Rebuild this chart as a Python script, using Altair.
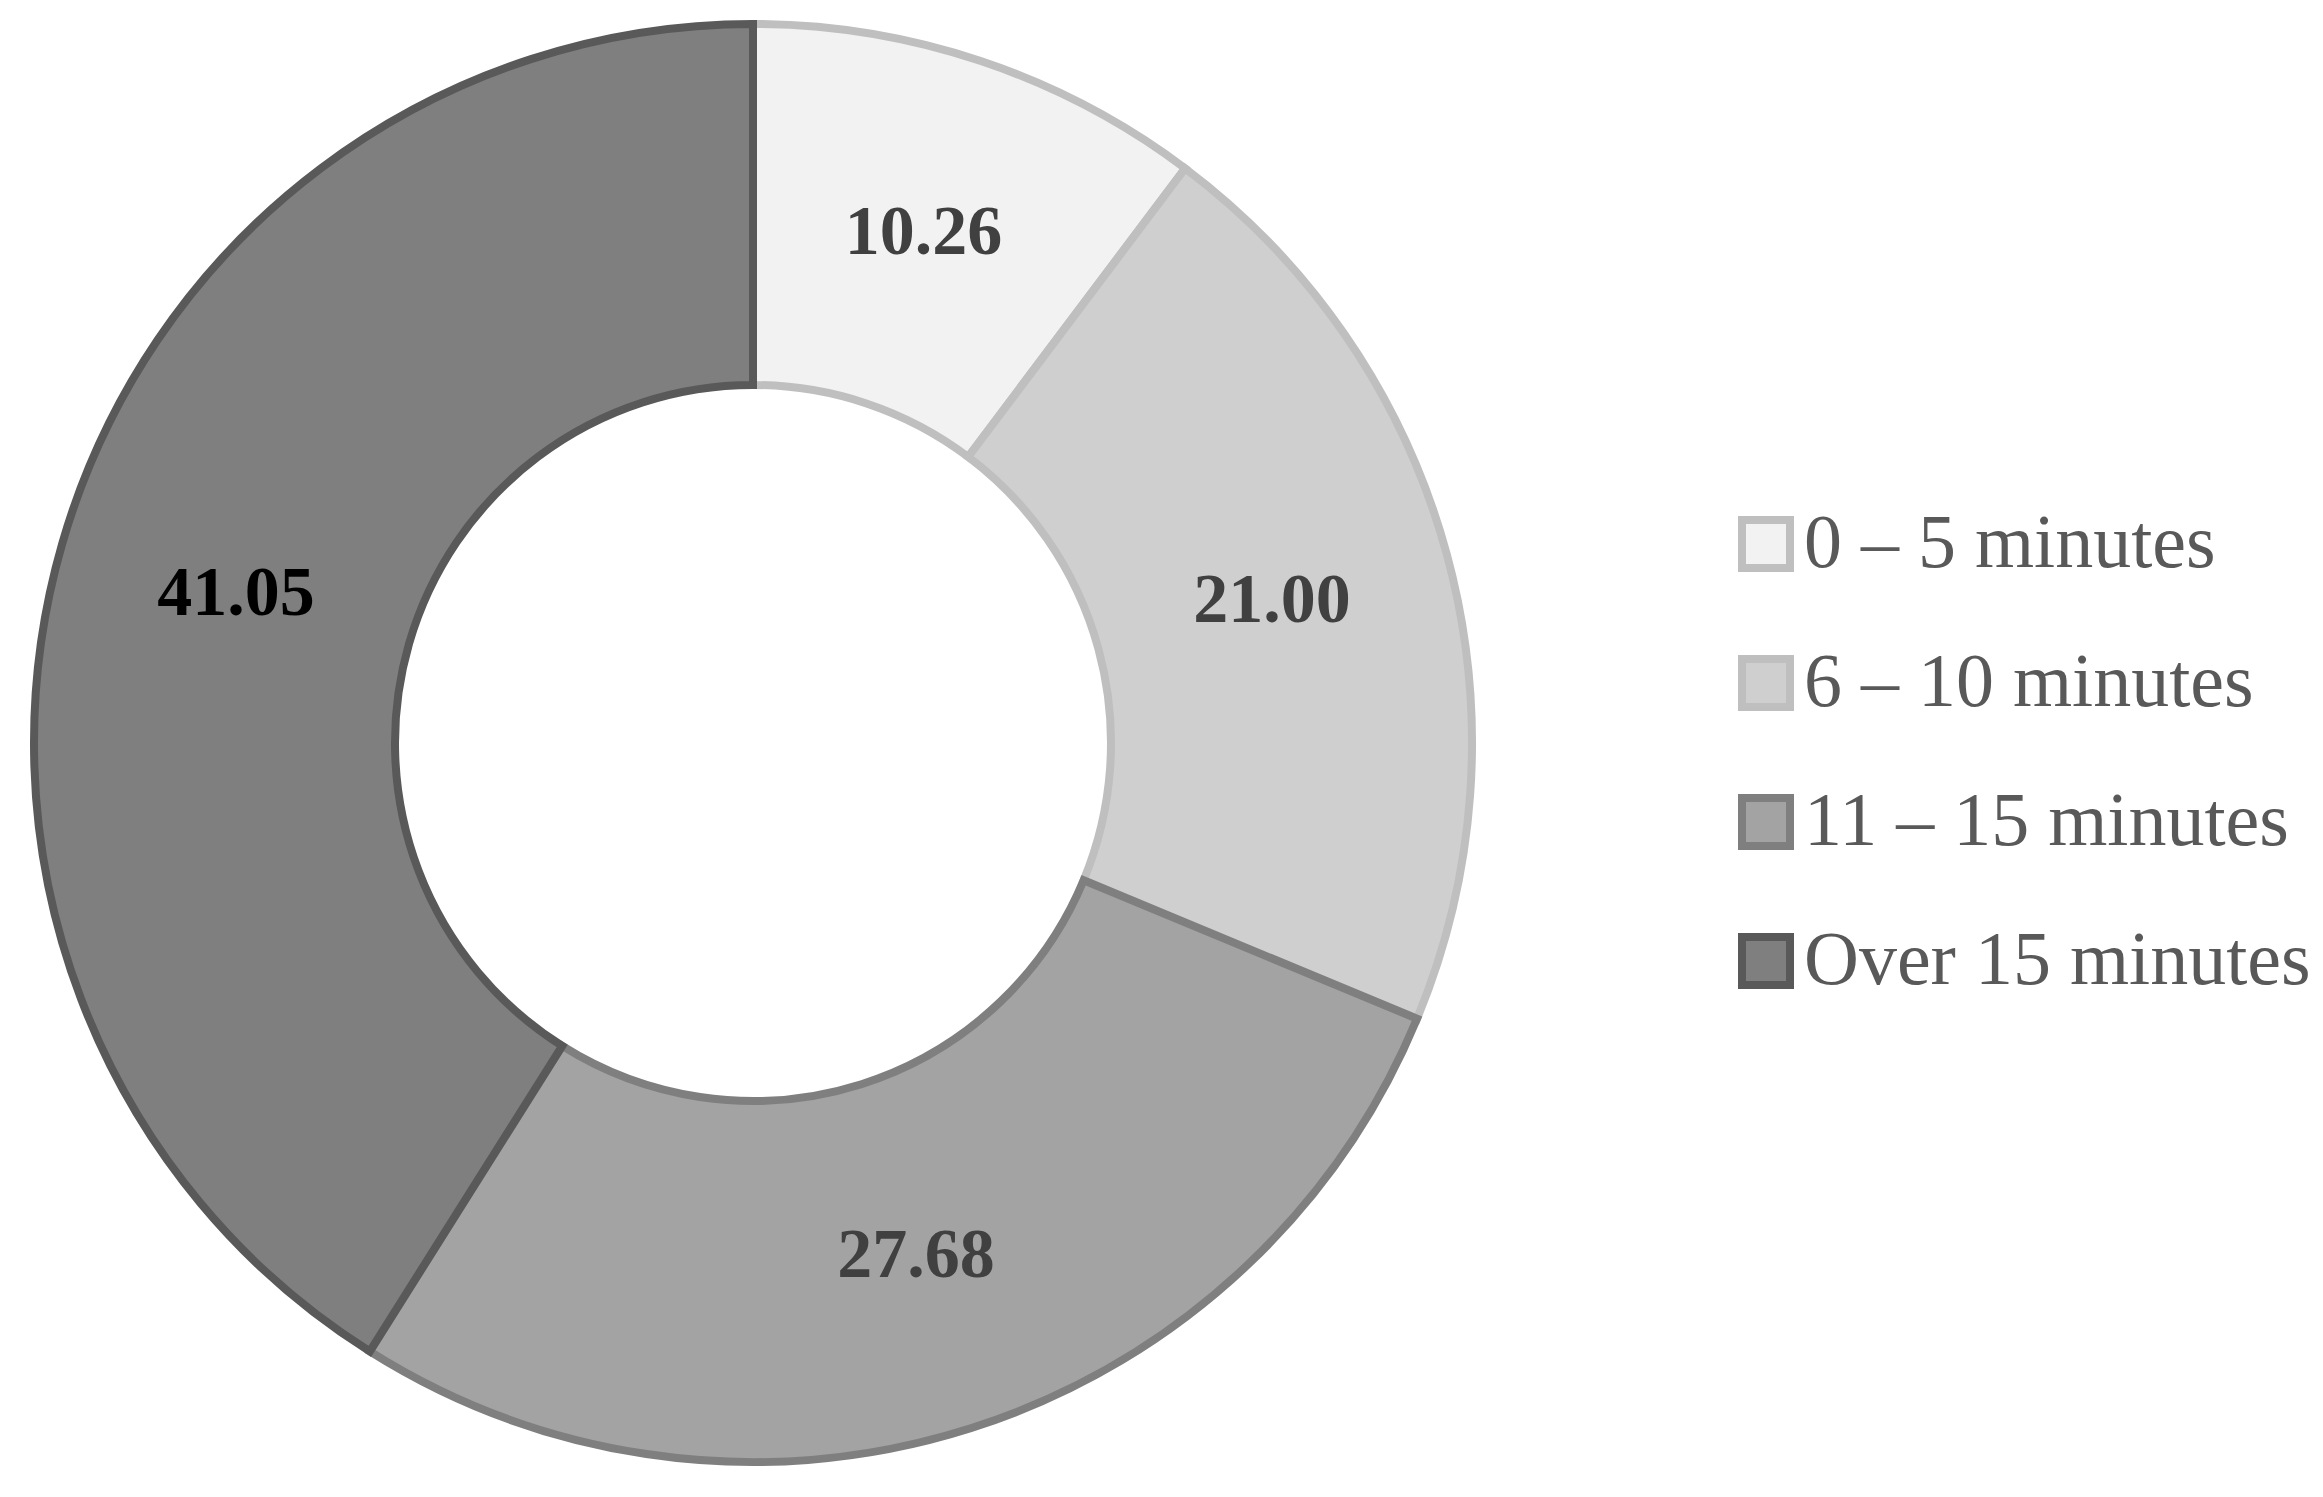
import altair as alt
import pandas as pd

categories = ["0 – 5 minutes", "6 – 10 minutes", "11 – 15 minutes", "Over 15 minutes"]
values = [10.26, 21.00, 27.68, 41.05]
labels = ["10.26", "21.00", "27.68", "41.05"]
fills = ["#f2f2f2", "#cfcfcf", "#a3a3a3", "#7f7f7f"]
strokes = ["#bfbfbf", "#bfbfbf", "#7f7f7f", "#595959"]
label_colors = ["#404040", "#404040", "#404040", "#000000"]

df = pd.DataFrame({
    "category": categories,
    "value": values,
    "label": labels,
    "order": list(range(len(categories))),
    "lc": label_colors,
})

legend = alt.Legend(
    title=None,
    orient="none",
    legendX=1720,
    legendY=497,
    padding=0,
    symbolType="square",
    symbolSize=2304,
    symbolStrokeWidth=8,
    labelFont="Liberation Serif",
    labelFontSize=76,
    labelColor="#595959",
    labelOffset=0,
    labelLimit=1000,
    rowPadding=59,
)

base = alt.Chart(df).encode(
    theta=alt.Theta("value:Q", stack=True),
    order=alt.Order("order:Q"),
)

arcs = base.mark_arc(outerRadius=719, innerRadius=358, strokeWidth=8).encode(
    color=alt.Color("category:N", scale=alt.Scale(domain=categories, range=fills), legend=legend),
    stroke=alt.Stroke("category:N", scale=alt.Scale(domain=categories, range=strokes), legend=legend),
)

text = base.mark_text(radius=538, fontSize=70, fontWeight="bold", font="Liberation Serif").encode(
    text="label:N",
    color=alt.Color("lc:N", scale=None),
)

chart = (arcs + text).properties(
    width=1490, height=1468, padding=0, background="white"
).configure_view(stroke=None)

chart.save("out.html", embed_options={"renderer": "svg", "actions": False})
